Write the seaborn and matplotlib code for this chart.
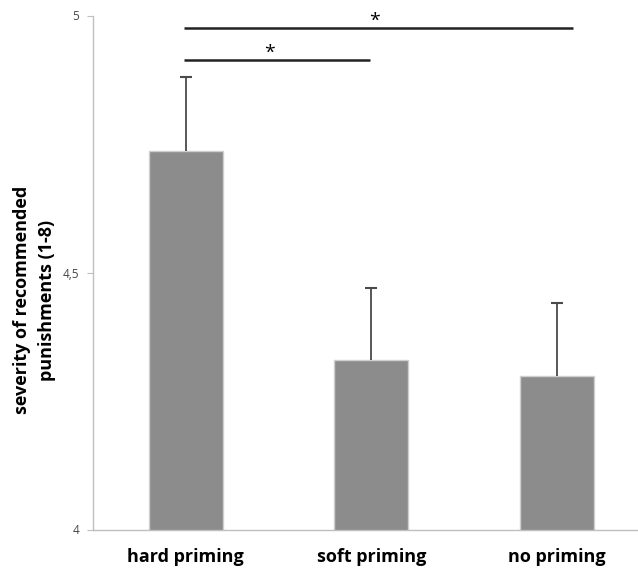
import matplotlib
matplotlib.use("Agg")
import matplotlib.pyplot as plt
import seaborn as sns
import pandas as pd

categories = ["hard priming", "soft priming", "no priming"]
means = [4.736, 4.330, 4.299]
errors_upper = [0.144, 0.140, 0.141]
y_ticks = [4.0, 4.5, 5.0]
y_tick_labels = ["4", "4,5", "5"]
sig_lines = [(-0.01, 0.995, 4.913), (-0.01, 2.09, 4.976)]
sig_star_x = [0.45, 1.02]
sig_labels = ["*", "*"]
y_label = "severity of recommended\npunishments (1-8)"

sns.set_theme(style="white")
plt.rcParams["font.family"] = ["Open Sans", "DejaVu Sans"]

W, H = 638, 568
fig = plt.figure(figsize=(W / 100, H / 100), dpi=100)
ax = fig.add_axes([93 / W, 38.5 / H, 556.5 / W, 514 / H])

df = pd.DataFrame({"cond": categories, "mean": means})
sns.barplot(data=df, x="cond", y="mean", color="#8c8c8c", saturation=1,
            width=0.4, edgecolor="#cfcfcf", linewidth=1, errorbar=None, ax=ax)

xs = list(range(len(categories)))
tops = [m + e for m, e in zip(means, errors_upper)]
ax.vlines(xs, means, tops, color="#4a4a4a", lw=1.3)
ax.plot(xs, tops, linestyle="none", marker="_", ms=9, mew=1.5, color="#4a4a4a")

for (x0, x1, yv), sx, lab in zip(sig_lines, sig_star_x, sig_labels):
    ax.plot([x0, x1], [yv, yv], color="#222222", lw=1.8,
            solid_capstyle="butt", clip_on=False)
    ax.text(sx, yv - 0.004, lab, ha="center", va="bottom", fontsize=14,
            color="black", clip_on=False)

ax.set_xlim(-0.5, 2.5)
ax.set_ylim(4, 5)
ax.set_yticks(y_ticks)
ax.set_yticklabels(y_tick_labels, fontsize=8.5, color="#444444")
ax.tick_params(axis="y", direction="out", length=4, width=0.8, color="#bfbfbf", pad=6, left=True)
ax.tick_params(axis="x", length=0, pad=13, labelsize=13)
for lbl in ax.get_xticklabels():
    lbl.set_fontweight("bold")
    lbl.set_color("black")
ax.set_xlabel("")
ax.set_ylabel(y_label, fontsize=13, fontweight="bold", color="black", linespacing=1.45)
ax.yaxis.label.set_va("center")
ax.yaxis.set_label_coords(-0.105, 0.446)

for side in ["top", "right"]:
    ax.spines[side].set_visible(False)
for side in ["left", "bottom"]:
    ax.spines[side].set_visible(True)
    ax.spines[side].set_color("#bfbfbf")
    ax.spines[side].set_linewidth(1)

fig.savefig("out.png", dpi=100)
